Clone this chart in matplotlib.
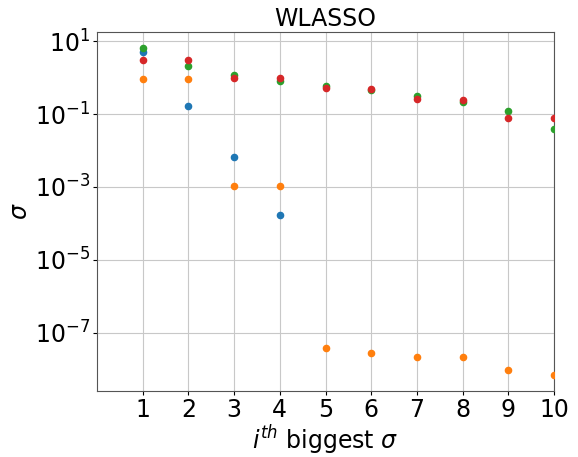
import numpy as np
import matplotlib
matplotlib.use("Agg")
import matplotlib.pyplot as plt

# sigma values (log scale)
idx_blue = [1, 2, 3, 4]
sig_blue = [5.2, 0.17, 0.0066, 1.7e-4]

idx_orange = [1, 2, 3, 4, 5, 6, 7, 8, 9, 10]
sig_orange = [0.9, 0.9, 1.06e-3, 1.06e-3, 3.7e-8, 2.75e-8, 2.1e-8, 2.1e-8, 9.3e-9, 6.8e-9]

idx_green = [1, 2, 3, 4, 5, 6, 7, 8, 9, 10]
sig_green = [6.5, 2.1, 1.2, 0.82, 0.59, 0.45, 0.31, 0.215, 0.12, 0.04]

idx_red = [1, 2, 3, 4, 5, 6, 7, 8, 9, 10]
sig_red = [3.1, 3.1, 0.98, 1.0, 0.51, 0.5, 0.255, 0.25, 0.078, 0.078]

xticks = list(range(1, 11))

fig = plt.figure(figsize=(5.78, 4.57), dpi=100)
ax = fig.add_axes([97 / 578, 1 - 391 / 457, (554 - 97) / 578, (391 - 32) / 457])

ax.scatter(idx_blue, sig_blue, s=20, color="tab:blue", zorder=3)
ax.scatter(idx_orange, sig_orange, s=20, color="tab:orange", zorder=3)
ax.scatter(idx_green, sig_green, s=20, color="tab:green", zorder=3)
ax.scatter(idx_red, sig_red, s=20, color="tab:red", zorder=3)

ax.set_yscale("log")
ax.set_xlim(0, 10)
ax.set_ylim(2.5e-9, 18)
ax.set_yticks([1e1, 1e-1, 1e-3, 1e-5, 1e-7])
ax.minorticks_off()
ax.set_xticks(xticks)
ax.tick_params(labelsize=17, length=3, pad=2)
ax.grid(True, color="#c8c8c8", linewidth=0.8)
ax.set_axisbelow(True)
for sp in ax.spines.values():
    sp.set_color("#555555")

ax.set_title("WLASSO", fontsize=17, pad=4)
ax.set_xlabel(r"$i^{th}$ biggest $\sigma$", fontsize=17, labelpad=1)
ax.set_ylabel(r"$\sigma$", fontsize=17, labelpad=2)

fig.savefig("out.png", dpi=100)
